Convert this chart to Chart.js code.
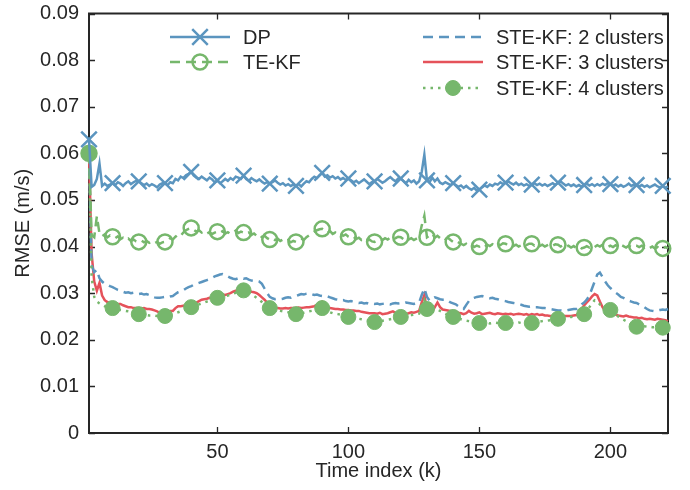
<!DOCTYPE html>
<html>
<head>
<meta charset="utf-8">
<script src="https://cdn.jsdelivr.net/npm/chart.js@4.4.0/dist/chart.umd.min.js"></script>
<style>
  html, body { margin: 0; padding: 0; background: #fff; }
  #wrap { width: 690px; height: 490px; }
</style>
</head>
<body>
<div id="wrap"><canvas id="c" width="690" height="490"></canvas></div>
<script>
// RMSE per time index (k = 1..222)
const DP = [0.0630,0.0528,0.0532,0.0545,0.0578,0.0530,0.0535,0.0530,0.0533,0.0536,
0.0532,0.0538,0.0535,0.0530,0.0536,0.0540,0.0534,0.0538,0.0541,0.0540,
0.0536,0.0532,0.0535,0.0530,0.0534,0.0531,0.0527,0.0533,0.0536,0.0536,
0.0532,0.0538,0.0536,0.0545,0.0542,0.0550,0.0547,0.0553,0.0556,0.0560,
0.0552,0.0548,0.0545,0.0550,0.0546,0.0542,0.0548,0.0544,0.0538,0.0542,
0.0536,0.0540,0.0545,0.0541,0.0547,0.0543,0.0550,0.0548,0.0545,0.0552,
0.0545,0.0541,0.0547,0.0543,0.0540,0.0544,0.0539,0.0535,0.0538,0.0535,
0.0538,0.0542,0.0537,0.0533,0.0536,0.0531,0.0534,0.0530,0.0533,0.0530,
0.0534,0.0529,0.0535,0.0540,0.0538,0.0545,0.0550,0.0547,0.0553,0.0558,
0.0550,0.0553,0.0548,0.0551,0.0546,0.0549,0.0544,0.0547,0.0543,0.0546,
0.0542,0.0538,0.0541,0.0536,0.0540,0.0544,0.0539,0.0534,0.0538,0.0540,
0.0545,0.0541,0.0537,0.0540,0.0545,0.0549,0.0544,0.0540,0.0546,0.0546,
0.0541,0.0536,0.0543,0.0538,0.0542,0.0535,0.0540,0.0560,0.0597,0.0542,
0.0538,0.0548,0.0540,0.0546,0.0537,0.0534,0.0538,0.0535,0.0532,0.0536,
0.0532,0.0528,0.0531,0.0526,0.0530,0.0525,0.0522,0.0526,0.0520,0.0522,
0.0527,0.0531,0.0528,0.0533,0.0530,0.0535,0.0533,0.0538,0.0534,0.0537,
0.0540,0.0536,0.0533,0.0537,0.0532,0.0535,0.0531,0.0534,0.0530,0.0533,
0.0536,0.0532,0.0535,0.0531,0.0534,0.0530,0.0533,0.0536,0.0532,0.0537,
0.0540,0.0535,0.0531,0.0534,0.0530,0.0533,0.0529,0.0532,0.0528,0.0532,
0.0535,0.0531,0.0534,0.0530,0.0534,0.0531,0.0535,0.0532,0.0536,0.0534,
0.0530,0.0533,0.0529,0.0532,0.0528,0.0531,0.0535,0.0530,0.0533,0.0532,
0.0529,0.0532,0.0528,0.0531,0.0527,0.0530,0.0533,0.0529,0.0527,0.0530,
0.0526,0.0529];

const TEKF = [0.0600,0.0425,0.0420,0.0465,0.0428,0.0422,0.0426,0.0420,0.0424,0.0421,
0.0418,0.0422,0.0416,0.0419,0.0414,0.0417,0.0412,0.0415,0.0411,0.0410,
0.0413,0.0409,0.0412,0.0408,0.0411,0.0407,0.0410,0.0406,0.0409,0.0410,
0.0413,0.0418,0.0415,0.0421,0.0426,0.0423,0.0430,0.0435,0.0438,0.0440,
0.0436,0.0432,0.0435,0.0430,0.0433,0.0428,0.0431,0.0427,0.0430,0.0432,
0.0429,0.0433,0.0428,0.0431,0.0427,0.0430,0.0434,0.0429,0.0432,0.0430,
0.0427,0.0430,0.0425,0.0428,0.0423,0.0426,0.0420,0.0423,0.0418,0.0415,
0.0418,0.0414,0.0417,0.0412,0.0415,0.0411,0.0414,0.0409,0.0412,0.0410,
0.0413,0.0417,0.0414,0.0420,0.0424,0.0428,0.0432,0.0435,0.0437,0.0438,
0.0434,0.0430,0.0433,0.0427,0.0430,0.0425,0.0428,0.0423,0.0426,0.0421,
0.0418,0.0421,0.0416,0.0419,0.0414,0.0417,0.0412,0.0415,0.0411,0.0410,
0.0413,0.0416,0.0414,0.0418,0.0415,0.0419,0.0422,0.0418,0.0421,0.0420,
0.0416,0.0419,0.0415,0.0418,0.0414,0.0417,0.0420,0.0445,0.0466,0.0420,
0.0424,0.0428,0.0419,0.0423,0.0418,0.0421,0.0416,0.0419,0.0414,0.0410,
0.0413,0.0409,0.0406,0.0403,0.0406,0.0401,0.0404,0.0399,0.0402,0.0400,
0.0403,0.0399,0.0404,0.0401,0.0405,0.0402,0.0406,0.0403,0.0407,0.0406,
0.0402,0.0405,0.0401,0.0404,0.0400,0.0403,0.0407,0.0403,0.0406,0.0406,
0.0402,0.0405,0.0401,0.0404,0.0400,0.0403,0.0406,0.0402,0.0405,0.0404,
0.0400,0.0403,0.0399,0.0402,0.0398,0.0401,0.0397,0.0400,0.0396,0.0398,
0.0401,0.0398,0.0402,0.0399,0.0403,0.0400,0.0404,0.0401,0.0399,0.0402,
0.0399,0.0403,0.0400,0.0404,0.0401,0.0398,0.0402,0.0399,0.0403,0.0402,
0.0399,0.0402,0.0398,0.0401,0.0397,0.0400,0.0396,0.0399,0.0395,0.0396,
0.0399,0.0396];

const STE2 = [0.0600,0.0360,0.0345,0.0350,0.0332,0.0325,0.0320,0.0318,0.0315,0.0313,
0.0310,0.0307,0.0305,0.0303,0.0301,0.0302,0.0300,0.0301,0.0299,0.0298,
0.0299,0.0297,0.0298,0.0296,0.0293,0.0291,0.0290,0.0290,0.0291,0.0292,
0.0291,0.0293,0.0294,0.0298,0.0302,0.0304,0.0306,0.0310,0.0313,0.0315,
0.0318,0.0320,0.0322,0.0324,0.0326,0.0328,0.0330,0.0333,0.0336,0.0338,
0.0340,0.0341,0.0338,0.0336,0.0333,0.0331,0.0330,0.0332,0.0333,0.0331,
0.0332,0.0329,0.0327,0.0326,0.0327,0.0325,0.0320,0.0310,0.0300,0.0292,
0.0289,0.0287,0.0288,0.0287,0.0288,0.0290,0.0291,0.0290,0.0292,0.0294,
0.0296,0.0298,0.0297,0.0299,0.0300,0.0298,0.0296,0.0297,0.0295,0.0294,
0.0295,0.0293,0.0291,0.0289,0.0287,0.0286,0.0284,0.0285,0.0283,0.0282,
0.0283,0.0281,0.0280,0.0279,0.0280,0.0278,0.0279,0.0277,0.0278,0.0277,
0.0278,0.0276,0.0277,0.0278,0.0277,0.0276,0.0278,0.0279,0.0278,0.0279,
0.0278,0.0280,0.0279,0.0278,0.0277,0.0279,0.0280,0.0296,0.0310,0.0292,
0.0284,0.0288,0.0291,0.0289,0.0287,0.0286,0.0287,0.0284,0.0280,0.0278,
0.0276,0.0272,0.0268,0.0266,0.0275,0.0283,0.0288,0.0290,0.0292,0.0293,
0.0294,0.0292,0.0290,0.0289,0.0290,0.0288,0.0287,0.0285,0.0284,0.0283,
0.0281,0.0280,0.0279,0.0278,0.0276,0.0275,0.0273,0.0272,0.0271,0.0272,
0.0270,0.0270,0.0269,0.0268,0.0268,0.0267,0.0266,0.0265,0.0264,0.0263,
0.0263,0.0262,0.0263,0.0264,0.0265,0.0266,0.0266,0.0270,0.0276,0.0280,
0.0286,0.0295,0.0310,0.0325,0.0340,0.0344,0.0335,0.0325,0.0317,0.0311,
0.0306,0.0301,0.0297,0.0292,0.0290,0.0287,0.0284,0.0282,0.0280,0.0279,
0.0276,0.0273,0.0270,0.0266,0.0263,0.0262,0.0261,0.0263,0.0264,0.0265,
0.0264,0.0266];

const STE3 = [0.0600,0.0385,0.0325,0.0305,0.0322,0.0295,0.0285,0.0281,0.0279,0.0278,
0.0278,0.0277,0.0277,0.0274,0.0272,0.0270,0.0270,0.0268,0.0268,0.0268,
0.0267,0.0268,0.0266,0.0266,0.0265,0.0263,0.0261,0.0258,0.0258,0.0259,
0.0260,0.0262,0.0262,0.0268,0.0272,0.0272,0.0273,0.0274,0.0276,0.0277,
0.0278,0.0280,0.0283,0.0286,0.0287,0.0288,0.0290,0.0289,0.0291,0.0294,
0.0296,0.0297,0.0296,0.0298,0.0300,0.0303,0.0305,0.0306,0.0307,0.0308,
0.0309,0.0305,0.0303,0.0302,0.0300,0.0296,0.0291,0.0286,0.0280,0.0275,
0.0272,0.0270,0.0268,0.0267,0.0267,0.0268,0.0267,0.0268,0.0268,0.0268,
0.0269,0.0268,0.0269,0.0270,0.0270,0.0271,0.0272,0.0275,0.0279,0.0282,
0.0275,0.0270,0.0268,0.0267,0.0266,0.0266,0.0265,0.0265,0.0264,0.0264,
0.0263,0.0263,0.0262,0.0262,0.0260,0.0259,0.0258,0.0257,0.0257,0.0257,
0.0256,0.0258,0.0255,0.0256,0.0257,0.0259,0.0261,0.0258,0.0256,0.0257,
0.0258,0.0256,0.0257,0.0259,0.0258,0.0260,0.0262,0.0280,0.0296,0.0265,
0.0262,0.0260,0.0270,0.0280,0.0270,0.0265,0.0264,0.0263,0.0262,0.0261,
0.0260,0.0258,0.0257,0.0255,0.0257,0.0262,0.0258,0.0256,0.0257,0.0259,
0.0255,0.0256,0.0257,0.0258,0.0256,0.0255,0.0257,0.0256,0.0255,0.0256,
0.0255,0.0256,0.0254,0.0255,0.0256,0.0255,0.0254,0.0255,0.0253,0.0255,
0.0254,0.0255,0.0253,0.0254,0.0252,0.0252,0.0251,0.0251,0.0251,0.0251,
0.0251,0.0251,0.0251,0.0251,0.0251,0.0252,0.0253,0.0258,0.0266,0.0274,
0.0280,0.0286,0.0293,0.0298,0.0295,0.0282,0.0270,0.0262,0.0258,0.0256,
0.0256,0.0254,0.0252,0.0251,0.0250,0.0252,0.0250,0.0249,0.0248,0.0248,
0.0246,0.0247,0.0245,0.0244,0.0245,0.0244,0.0243,0.0245,0.0244,0.0243,
0.0242,0.0240];

const STE4 = [0.0600,0.0335,0.0292,0.0282,0.0278,0.0275,0.0272,0.0271,0.0270,0.0268,
0.0266,0.0265,0.0264,0.0263,0.0262,0.0261,0.0260,0.0258,0.0257,0.0255,
0.0254,0.0254,0.0253,0.0252,0.0252,0.0252,0.0251,0.0251,0.0251,0.0251,
0.0252,0.0253,0.0255,0.0257,0.0259,0.0261,0.0263,0.0266,0.0268,0.0270,
0.0272,0.0274,0.0276,0.0278,0.0280,0.0282,0.0284,0.0286,0.0288,0.0290,
0.0291,0.0292,0.0294,0.0295,0.0297,0.0299,0.0301,0.0303,0.0305,0.0306,
0.0304,0.0301,0.0298,0.0294,0.0290,0.0286,0.0281,0.0276,0.0271,0.0268,
0.0266,0.0264,0.0263,0.0262,0.0261,0.0260,0.0259,0.0258,0.0257,0.0255,
0.0256,0.0257,0.0258,0.0259,0.0261,0.0262,0.0264,0.0266,0.0267,0.0268,
0.0264,0.0261,0.0259,0.0257,0.0256,0.0255,0.0254,0.0253,0.0251,0.0249,
0.0248,0.0247,0.0246,0.0245,0.0244,0.0243,0.0242,0.0241,0.0240,0.0238,
0.0239,0.0240,0.0241,0.0242,0.0243,0.0244,0.0245,0.0246,0.0247,0.0249,
0.0250,0.0251,0.0252,0.0253,0.0254,0.0255,0.0256,0.0270,0.0285,0.0266,
0.0262,0.0260,0.0262,0.0264,0.0262,0.0259,0.0256,0.0253,0.0251,0.0249,
0.0247,0.0245,0.0244,0.0242,0.0241,0.0240,0.0239,0.0238,0.0237,0.0236,
0.0237,0.0236,0.0237,0.0235,0.0236,0.0237,0.0236,0.0235,0.0236,0.0236,
0.0237,0.0236,0.0235,0.0236,0.0237,0.0236,0.0235,0.0236,0.0237,0.0236,
0.0237,0.0238,0.0239,0.0240,0.0241,0.0241,0.0242,0.0243,0.0244,0.0245,
0.0246,0.0246,0.0247,0.0248,0.0249,0.0250,0.0251,0.0252,0.0253,0.0255,
0.0262,0.0270,0.0278,0.0285,0.0283,0.0276,0.0270,0.0267,0.0265,0.0264,
0.0260,0.0255,0.0250,0.0246,0.0243,0.0240,0.0237,0.0234,0.0231,0.0228,
0.0228,0.0229,0.0229,0.0228,0.0228,0.0227,0.0227,0.0226,0.0226,0.0226,
0.0227,0.0226];

const timeIndex = DP.map((_, i) => i + 1);
const xTicks = [50, 100, 150, 200];
const yTicks = [0, 0.01, 0.02, 0.03, 0.04, 0.05, 0.06, 0.07, 0.08, 0.09];

const BLUE = '#5b95bf';
const GREEN = '#76b76c';
const RED = '#e5525a';
const AXIS = '#262626';
const FONT = '"Liberation Sans", Arial, Helvetica, sans-serif';
const FS = 20;

// markers at k = 1, 10, 20, ...
const onMarker = ctx => {
  const k = timeIndex[ctx.dataIndex];
  return k === 1 || k % 10 === 0;
};
const series = vals => vals.map((v, i) => ({ x: timeIndex[i], y: v }));

const datasets = [
  { label: 'DP', data: series(DP), borderColor: BLUE, borderWidth: 2.5,
    pointStyle: 'crossRot', pointRadius: c => onMarker(c) ? 11 : 0,
    pointBorderColor: BLUE, pointBackgroundColor: BLUE, pointBorderWidth: 2.5,
    order: 0, col: 0, row: 0 },
  { label: 'TE-KF', data: series(TEKF), borderColor: GREEN, borderWidth: 2.5, borderDash: [10, 6],
    pointStyle: 'circle', pointRadius: c => onMarker(c) ? 7.5 : 0,
    pointBorderColor: GREEN, pointBackgroundColor: 'rgba(0,0,0,0)', pointBorderWidth: 2.5,
    order: 1, col: 0, row: 1 },
  { label: 'STE-KF: 2 clusters', data: series(STE2), borderColor: BLUE, borderWidth: 2.5, borderDash: [10, 6],
    pointRadius: 0, order: 3, col: 1, row: 0 },
  { label: 'STE-KF: 3 clusters', data: series(STE3), borderColor: RED, borderWidth: 2.5,
    pointRadius: 0, order: 4, col: 1, row: 1 },
  { label: 'STE-KF: 4 clusters', data: series(STE4), borderColor: GREEN, borderWidth: 2.5, borderDash: [2.5, 5],
    pointStyle: 'circle', pointRadius: c => onMarker(c) ? 7.5 : 0,
    pointBorderColor: GREEN, pointBackgroundColor: GREEN, pointBorderWidth: 1,
    order: 2, col: 1, row: 2 }
];
datasets.forEach(d => { d.clip = false; d.tension = 0; d.fill = false; });

// box around the plot with inward ticks on all four sides
const framePlugin = {
  id: 'frame',
  beforeDatasetsDraw(chart) {
    const { ctx, chartArea: a, scales: { x, y } } = chart;
    ctx.save();
    ctx.strokeStyle = AXIS;
    ctx.lineWidth = 2;
    ctx.strokeRect(a.left, a.top, a.right - a.left, a.bottom - a.top);
    ctx.lineWidth = 1.3;
    ctx.beginPath();
    const tl = 6;
    xTicks.forEach(v => {
      const px = Math.round(x.getPixelForValue(v)) + 0.5;
      ctx.moveTo(px, a.bottom); ctx.lineTo(px, a.bottom - tl);
      ctx.moveTo(px, a.top); ctx.lineTo(px, a.top + tl);
    });
    yTicks.forEach(v => {
      const py = Math.round(y.getPixelForValue(v)) + 0.5;
      ctx.moveTo(a.left, py); ctx.lineTo(a.left + tl, py);
      ctx.moveTo(a.right, py); ctx.lineTo(a.right - tl, py);
    });
    ctx.stroke();
    ctx.restore();
  }
};

// two-column legend inside the plot, like the original
const legendPlugin = {
  id: 'twoColLegend',
  afterDraw(chart) {
    const { ctx } = chart;
    const colX = [170, 423];
    const rowY = [37, 62, 88];
    const sampleW = 60;
    ctx.save();
    chart.data.datasets.forEach(ds => {
      const x0 = colX[ds.col], y0 = rowY[ds.row];
      ctx.strokeStyle = ds.borderColor;
      ctx.lineWidth = ds.borderWidth;
      ctx.setLineDash(ds.borderDash || []);
      ctx.beginPath();
      ctx.moveTo(x0, y0); ctx.lineTo(x0 + sampleW, y0);
      ctx.stroke();
      ctx.setLineDash([]);
      if (ds.pointStyle && typeof ds.pointRadius === 'function') {
        ctx.fillStyle = ds.pointBackgroundColor;
        ctx.strokeStyle = ds.pointBorderColor;
        ctx.lineWidth = ds.pointBorderWidth;
        Chart.helpers.drawPoint(ctx, {
          pointStyle: ds.pointStyle, rotation: 0,
          radius: ds.pointRadius({ dataIndex: 0 }), borderWidth: ds.pointBorderWidth
        }, x0 + sampleW / 2, y0);
      }
      ctx.fillStyle = AXIS;
      ctx.font = FS + 'px ' + FONT;
      ctx.textBaseline = 'middle';
      ctx.textAlign = 'left';
      ctx.fillText(ds.label, x0 + sampleW + 13, y0 + 1);
    });
    ctx.restore();
  }
};

new Chart(document.getElementById('c'), {
  type: 'line',
  data: { datasets },
  options: {
    responsive: false,
    devicePixelRatio: 1,
    animation: false,
    layout: { padding: { top: 8, right: 22, bottom: 0, left: 0 } },
    plugins: { legend: { display: false }, tooltip: { enabled: false } },
    scales: {
      x: {
        type: 'linear', min: 1, max: 222,
        afterBuildTicks: s => { s.ticks = xTicks.map(v => ({ value: v })); },
        afterFit: s => { s.height = 57; s.paddingLeft = 0; s.paddingRight = 0; },
        grid: { display: false, drawTicks: false },
        border: { display: false },
        ticks: { padding: 7, color: AXIS, font: { family: FONT, size: FS }, maxRotation: 0 },
        title: { display: true, text: 'Time index (k)', color: AXIS,
                 font: { family: FONT, size: FS }, padding: { top: 0, bottom: 7 } }
      },
      y: {
        type: 'linear', min: 0, max: 0.09,
        afterBuildTicks: s => { s.ticks = yTicks.map(v => ({ value: v })); },
        afterFit: s => { s.width = 89; s.paddingTop = 0; s.paddingBottom = 0; },
        grid: { display: false, drawTicks: false },
        border: { display: false },
        ticks: { padding: 10, color: AXIS, font: { family: FONT, size: FS },
                 callback: v => v === 0 ? '0' : v.toFixed(2) },
        title: { display: true, text: 'RMSE (m/s)', color: AXIS,
                 font: { family: FONT, size: FS }, padding: { top: 11, bottom: 0 } }
      }
    }
  },
  plugins: [framePlugin, legendPlugin]
});
</script>
</body>
</html>
